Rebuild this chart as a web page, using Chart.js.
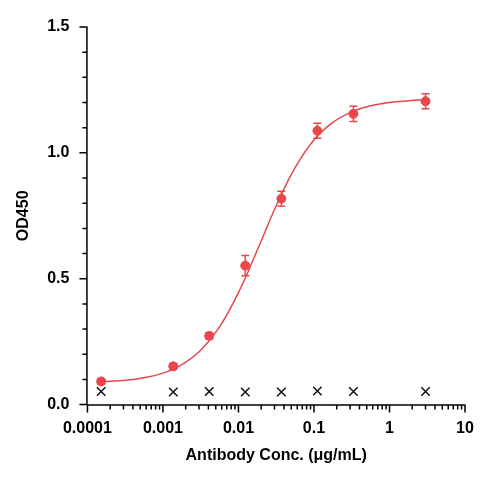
<!DOCTYPE html><html><head><script src="https://cdn.jsdelivr.net/npm/chart.js@4"></script>
<style>body{margin:0;background:#fff}#w{width:485px;height:485px}</style></head><body><div id="w"><canvas id="c"></canvas></div>
<script>
const conc=[0.000152,0.00137,0.0041,0.0123,0.037,0.111,0.333,3];
const od=[0.092,0.152,0.273,0.552,0.818,1.088,1.155,1.205];
const err=[0.01,0.012,0.012,0.04,0.03,0.03,0.03,0.03];
const ctrl=[0.052,0.05,0.052,0.05,0.05,0.054,0.052,0.052];
const fitX=[-3.8,-3.5,-3.25,-3,-2.75,-2.5,-2.25,-2,-1.75,-1.5,-1.25,-1,-0.75,-0.5,-0.25,0,0.25,0.5];
const fitY=[0.0905,0.0967,0.107,0.125,0.159,0.216,0.309,0.445,0.614,0.790,0.941,1.051,1.121,1.163,1.187,1.200,1.207,1.211];
const red='#e8474b';
const ticksPlugin={id:'tk',afterDraw(ch){const c=ch.ctx,x=ch.scales.x,y=ch.scales.y;c.save();c.strokeStyle='#000';c.lineWidth=1.5;
c.beginPath();c.moveTo(x.left,y.bottom+0.5);c.lineTo(x.right,y.bottom+0.5);c.moveTo(x.left-0.5,y.top);c.lineTo(x.left-0.5,y.bottom);
for(let e=-4;e<=1;e++){for(let m=1;m<10;m++){const v=m*Math.pow(10,e);if(v>10.0001)break;const px=x.getPixelForValue(v);c.moveTo(px,y.bottom);c.lineTo(px,y.bottom+(m==1?8:5));}}
for(let i=0;i<=15;i++){const py=y.getPixelForValue(i/10);c.moveTo(x.left,py);c.lineTo(x.left-(i%5==0?8:5),py);}
c.stroke();
c.strokeStyle=red;c.lineWidth=1.5;c.beginPath();
conc.forEach((v,i)=>{const px=x.getPixelForValue(v),t=y.getPixelForValue(od[i]+err[i]),b=y.getPixelForValue(od[i]-err[i]);c.moveTo(px,t);c.lineTo(px,b);c.moveTo(px-4,t);c.lineTo(px+4,t);c.moveTo(px-4,b);c.lineTo(px+4,b);});
c.stroke();c.restore();}};
new Chart(document.getElementById('c'),{type:'scatter',data:{datasets:[
{type:'line',data:fitX.map((l,i)=>({x:Math.pow(10,l),y:fitY[i]})),borderColor:red,borderWidth:1.5,pointRadius:0,tension:0.4,fill:false},
{data:conc.map((v,i)=>({x:v,y:od[i]})),backgroundColor:red,borderColor:red,pointRadius:4.5},
{data:conc.map((v,i)=>({x:v,y:ctrl[i]})),pointStyle:'cross',rotation:45,pointRadius:6,borderColor:'#111',borderWidth:1.5}
]},options:{responsive:true,maintainAspectRatio:false,animation:false,layout:{padding:{top:27,right:20,left:10,bottom:16}},
plugins:{legend:{display:false},tooltip:{enabled:false}},
scales:{x:{type:'logarithmic',min:0.0001,max:10,grid:{display:false},border:{display:false},
afterBuildTicks(s){s.ticks=[0.0001,0.001,0.01,0.1,1,10].map(v=>({value:v}));},
ticks:{color:'#000',font:{family:'Liberation Sans',weight:'bold',size:16},padding:6,maxRotation:0,callback:v=>String(v)},
title:{display:true,text:'Antibody Conc. (μg/mL)',color:'#000',font:{family:'Liberation Sans',weight:'bold',size:16},padding:{top:2}}},
y:{min:0,max:1.5,grid:{display:false},border:{display:false},afterBuildTicks(s){s.ticks=[0,0.5,1,1.5].map(v=>({value:v}));},
ticks:{color:'#000',font:{family:'Liberation Sans',weight:'bold',size:16},padding:10,callback:v=>v.toFixed(1)},
title:{display:true,text:'OD450',color:'#000',font:{family:'Liberation Sans',weight:'bold',size:16}}}}},plugins:[ticksPlugin]});
</script></body></html>
